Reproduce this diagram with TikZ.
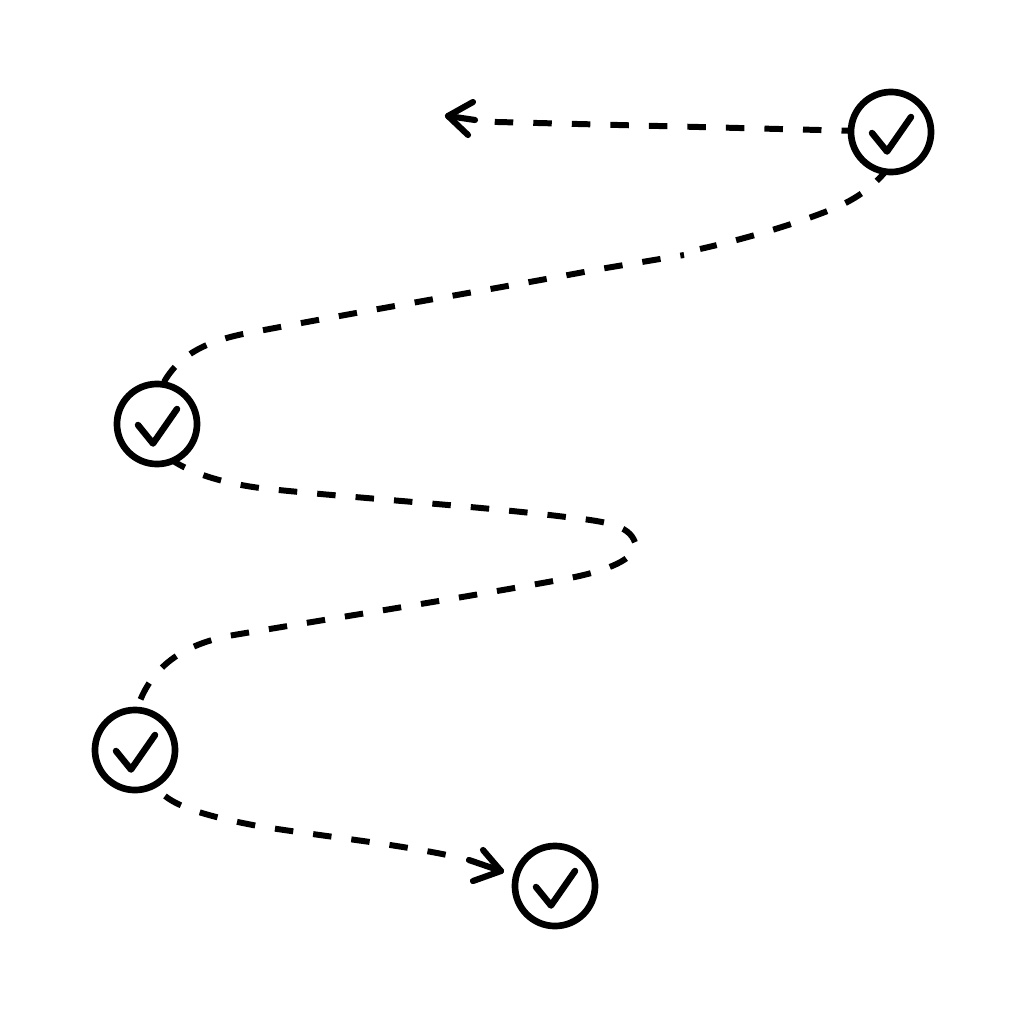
\documentclass[tikz,border=0pt]{standalone}
\usetikzlibrary{arrows.meta, positioning, calc}
\tikzset{%
   % A circled tick: the circle is the node, the tick is a pic drawn over it.
   checkdot/.style={
      circle,
      draw,
      fill=white,
      line width=1.9pt,
      inner sep=0pt,
      outer sep=0pt,
      minimum size=.8cm
   },
   tick/.pic={
      \draw[line width=1.85pt, line cap=round, line join=round]
         (-19,1) -- (-4,19.5) -- (20,-15);
   },
   route/.style={
      line width=1.7pt,
      dash pattern=on 5.26pt off 5.7pt,
      line cap=butt
   },
   routehead/.style={
      line width=1.75pt,
      line cap=round,
      line join=round
   },
}

\begin{document}
\begin{tikzpicture}[x=.01cm, y=-.01cm, inner sep=1pt]
    \useasboundingbox (0,0) rectangle (1024,1024);
    \coordinate (tip) at (448,116);
    \coordinate (end) at (501,871);
    \draw[route] (860,131) -- (477,121.5);
    \draw[routehead] (473,102) -- (tip) -- (468,135);
    \draw[routehead] (475,120) -- (tip);
    \draw[route] (889,167) .. controls (877,183) and (860,198) .. (830,210)
        .. controls (790,226) and (740,240) .. (700,249);
    \draw[route, dash phase=4.2pt] (684,255) -- (600,269)
        .. controls (500,288) and (390,306) .. (243,334)
        .. controls (205,342) and (175,356) .. (160,390);
    \draw[route] (169,458) .. controls (185,470) and (215,482) .. (260,488)
        .. controls (340,497) and (480,506) .. (570,517.5)
        .. controls (610,522) and (632,526) .. (636,546)
        .. controls (632,562) and (600,572) .. (570,578)
        .. controls (450,600) and (340,617) .. (228,636)
        .. controls (185,645) and (150,665) .. (136,712);
    \draw[route] (165,796) .. controls (180,808) and (210,817) .. (258,826)
        .. controls (320,836) and (390,843) .. (452,856);
    \draw[routehead] (483,850) -- (end) -- (473,881);
    \draw[routehead] (469,860) -- (end);
    \node[checkdot] (c1) at (891,132) {};
    \node[checkdot] (c2) at (157,424) {};
    \node[checkdot] (c3) at (135,750) {};
    \node[checkdot] (c4) at (555,886) {};
    \pic at (c1) {tick};
    \pic at (c2) {tick};
    \pic at (c3) {tick};
    \pic at (c4) {tick};
\end{tikzpicture}
\end{document}
